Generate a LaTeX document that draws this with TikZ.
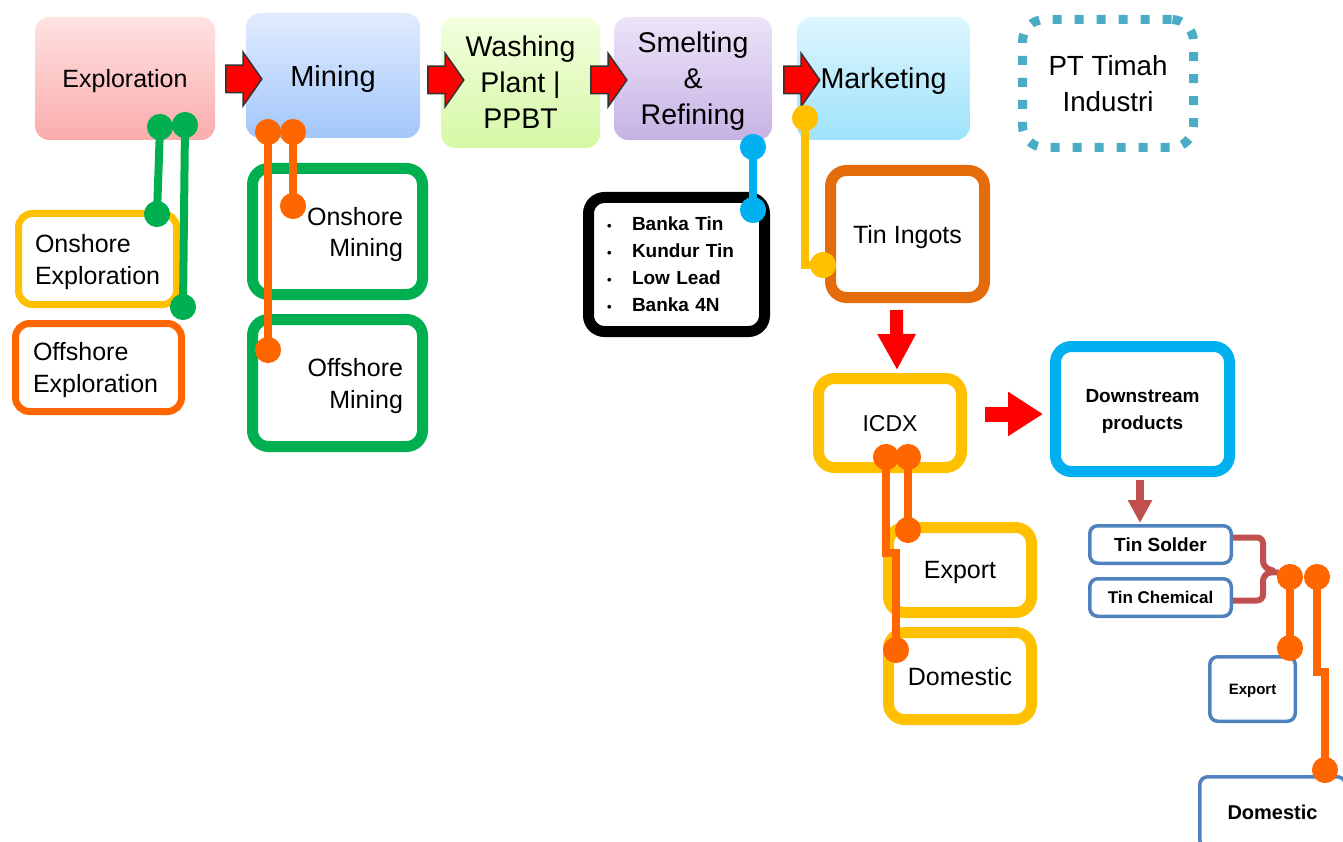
\documentclass[tikz,border=0pt]{standalone}
\usepackage{fontspec}
\setmainfont{Liberation Sans}
\usetikzlibrary{arrows.meta,shapes.arrows,calc}

\definecolor{explTop}{RGB}{255,226,226}
\definecolor{explBot}{RGB}{250,172,172}
\definecolor{minTop}{RGB}{226,236,255}
\definecolor{minBot}{RGB}{162,198,250}
\definecolor{washTop}{RGB}{242,255,222}
\definecolor{washBot}{RGB}{214,248,166}
\definecolor{smeltTop}{RGB}{236,228,248}
\definecolor{smeltBot}{RGB}{198,178,228}
\definecolor{markTop}{RGB}{222,246,255}
\definecolor{markBot}{RGB}{158,226,250}
\definecolor{timahBlue}{RGB}{75,172,198}
\definecolor{leafGreen}{RGB}{0,176,80}
\definecolor{hotOrange}{RGB}{255,102,0}
\definecolor{goldYellow}{RGB}{255,192,0}
\definecolor{skyBlue}{RGB}{0,176,240}
\definecolor{ingotOrange}{RGB}{228,108,10}
\definecolor{steelBlue}{RGB}{79,129,189}
\definecolor{brickRed}{RGB}{192,80,77}

\newcommand{\fsz}[2]{\fontsize{#1}{#2}\selectfont}
\newcommand{\bul}{\makebox[25pt][l]{\fsz{13}{13}\textbullet}}

\begin{document}
\begin{tikzpicture}[x=1pt,y=-1pt,
    every node/.style={text depth=0pt},
    stage/.style={rounded corners=14pt, inner sep=0pt, align=center, top color=#1Top, bottom color=#1Bot},
    subbox/.style={draw=#1, line width=11pt, rounded corners=16pt, inner sep=0pt},
    tagbox/.style={draw=steelBlue, line width=3.5pt, rounded corners=8pt, inner sep=0pt, font=\bfseries\fsz{19}{24}},
    flow/.style={single arrow, draw=black!80, line width=1.5pt, fill=red, inner xsep=0pt, inner ysep=13pt, minimum height=36pt, single arrow head extend=13pt, single arrow tip angle=110},
    wire/.style={draw=#1, line width=8pt, {Circle[length=26pt]}-{Circle[length=26pt]}, shorten <=-13pt, shorten >=-13pt}
]
\useasboundingbox (0,0) rectangle (1343,842);

% value chain
\node[stage=expl, minimum width=180, minimum height=123, font=\fsz{25}{30}] (expl) at (125,78.5) {Exploration};
\node[stage=min, minimum width=174, minimum height=125, font=\fsz{29}{34}] (mining) at (333,75.5) {Mining};
\node[stage=wash, minimum width=159, minimum height=131, font=\fsz{28.5}{36}] (wash) at (520.5,82.5) {Washing\\Plant |\\PPBT};
\node[stage=smelt, minimum width=158, minimum height=123, font=\fsz{28.5}{36}] (smelt) at (693,78.5) {Smelting\\\&\\Refining};
\node[stage=mark, minimum width=173, minimum height=123, font=\fsz{28.7}{34}] (market) at (883.5,78.5) {Marketing};
\node[draw=timahBlue, line width=9pt, dash pattern=on 9pt off 13pt, rounded corners=22pt, minimum width=171, minimum height=128, align=center, font=\fsz{27.7}{36}] (timah) at (1108,83.5) {PT Timah\\Industri};

\node[flow] (f1) at (239,79) {};
\node[flow] (f2) at (441,80) {};
\node[flow] (f3) at (604,80) {};
\node[flow] (f4) at (797,80) {};

% sub boxes
\node[subbox=goldYellow, line width=7pt, rounded corners=14pt, minimum width=158, minimum height=91, text width=125, text depth=32pt, align=left, font=\fsz{25}{32}] (onexp) at (97.5,259) {Onshore\\Exploration};
\node[subbox=hotOrange, line width=7pt, rounded corners=14pt, minimum width=166, minimum height=88, text width=131, text depth=32pt, align=left, font=\fsz{25}{32}] (offexp) at (98.5,367.5) {Offshore\\Exploration};
\node[subbox=leafGreen, minimum width=170, minimum height=126, text width=131, text depth=31pt, align=right, font=\fsz{25}{31}] (onmin) at (337.5,231.5) {Onshore\\Mining};
\node[subbox=leafGreen, minimum width=170, minimum height=127, text width=131, text depth=32pt, align=right, font=\fsz{25}{32}] (offmin) at (337.5,383) {Offshore\\Mining};
\node[subbox=black, minimum width=176, minimum height=134, text width=139, text depth=81pt, align=left, font=\bfseries\fsz{19}{27}] (grades) at (676.5,264.5) {\bul Banka Tin\\\bul Kundur Tin\\\bul Low Lead\\\bul Banka 4N};
\node[subbox=ingotOrange, minimum width=154, minimum height=127, font=\fsz{25}{30}] (ingots) at (907.5,234) {Tin Ingots};
\node[subbox=goldYellow, minimum width=143, minimum height=89, font=\fsz{23}{28}] (icdx) at (890,423) {ICDX};
\node[subbox=skyBlue, minimum width=174, minimum height=125, align=center, font=\bfseries\fsz{19}{27}] (down) at (1142.5,409) {Downstream\\products};
\node[subbox=goldYellow, minimum width=143, minimum height=85, font=\fsz{25}{30}] (export) at (960,570) {Export};
\node[subbox=goldYellow, minimum width=143, minimum height=87, font=\fsz{25}{30}] (domestic) at (960,676) {Domestic};
\node[tagbox, minimum width=141.5, minimum height=37.5] (solder) at (1160.5,544.5) {Tin Solder};
\node[tagbox, minimum width=141.5, minimum height=37.5, font=\bfseries\fsz{17}{20}] (chem) at (1160.5,597.5) {Tin Chemical};
\node[tagbox, minimum width=85.5, minimum height=64.5, font=\bfseries\fsz{15}{18}] (exp2) at (1252.5,689) {Export};
\node[tagbox, minimum width=145.5, minimum height=71.5, font=\bfseries\fsz{20}{24}] (dom2) at (1272.5,812.5) {Domestic};

% arrows between products
\draw[red, line width=13pt, -{Triangle[length=36pt,width=36pt]}] ($(ingots.south)+(-11,7)$) -- ($(icdx.north)+(7,-3)$);
\draw[red, line width=15pt, -{Triangle[length=35pt,width=42pt]}] ($(icdx.east)+(18,-9)$) -- ($(down.west)+(-7,5)$);
\draw[brickRed, line width=8pt, -{Triangle[length=23pt,width=23pt]}] ($(down.south)+(-2.5,3)$) -- ($(solder.north)+(-20.5,-1)$);

% pin ends
\coordinate (g1) at (160,127);
\coordinate (g2) at (185,125);
\coordinate (g3) at (157,214);
\coordinate (g4) at (183,307);
\coordinate (m1) at (268,132);
\coordinate (m2) at (293,132);
\coordinate (m3) at (293,206);
\coordinate (m4) at (268,350);
\coordinate (b1) at (753,147);
\coordinate (b2) at (753,210);
\coordinate (y1) at (805,118);
\coordinate (y2) at (823,265);
\coordinate (i1) at (886,457);
\coordinate (i2) at (908,457);
\coordinate (i3) at (908,530);
\coordinate (i4) at (896,650);
\coordinate (s1) at (1290,577);
\coordinate (s2) at (1317,577);
\coordinate (s3) at (1290,648);
\coordinate (s4) at (1325,770);

% bracket
\draw[brickRed, line width=6pt, rounded corners=6pt] ($(solder.east)+(0,-7)$) -- (1263,537.5) -- (1263,567) -- (1274,571);
\draw[brickRed, line width=6pt, rounded corners=6pt] ($(chem.east)+(0,3)$) -- (1263,600.5) -- (1263,575) -- (1274,571) -- (s1);

% pins
\draw[wire=leafGreen] (g1) -- (g3);
\draw[wire=leafGreen] (g2) -- (g4);
\draw[wire=hotOrange] (m2) -- (m3);
\draw[wire=hotOrange] (m1) -- (m4);
\draw[wire=skyBlue] (b1) -- (b2);
\draw[wire=goldYellow] (y1) |- (y2);
\draw[wire=hotOrange] (i2) -- (i3);
\draw[wire=hotOrange] (i1) -- (886,553) -- (896,553) -- (i4);
\draw[wire=hotOrange] (s1) -- (s3);
\draw[wire=hotOrange] (s2) -- (1317,672) -- (1325,672) -- (s4);
\end{tikzpicture}
\end{document}
